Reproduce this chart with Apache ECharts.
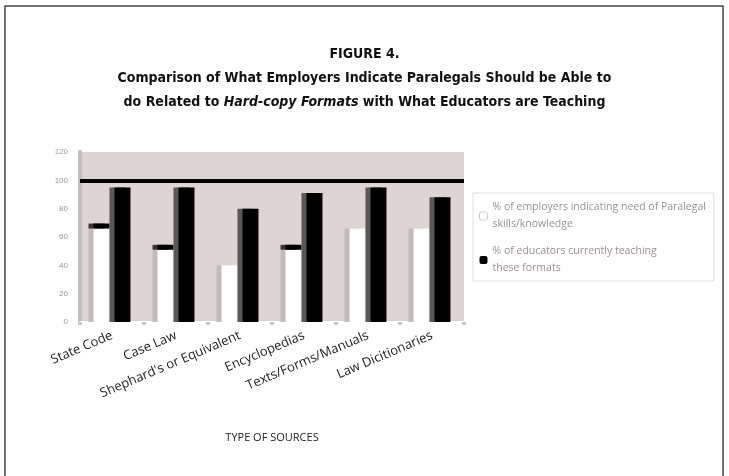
<!DOCTYPE html>
<html>
<head>
<meta charset="utf-8">
<script src="https://cdn.jsdelivr.net/npm/echarts@6/dist/echarts.min.js"></script>
<style>
  html, body { margin: 0; padding: 0; background: #fff; }
  #chart { width: 729px; height: 476px; }
</style>
</head>
<body>
<div id="chart"></div>
<script>
const categories = ['State Code', 'Case Law', "Shephard's or Equivalent", 'Encyclopedias', 'Texts/Forms/Manuals', 'Law Dicitionaries'];
const employersValues = [66, 51, 40, 51, 66, 66];
const employersCap = [3.5, 3.5, null, 3.5, null, null];
const educatorsValues = [95, 95, 80, 91, 95, 88];
const referenceLine = 100;
const yTicks = [0, 20, 40, 60, 80, 100, 120];
const legendNames = ['% of employers indicating need of Paralegal\nskills/knowledge', '% of educators currently teaching\nthese formats'];

const chart = echarts.init(document.getElementById('chart'));
const titleFont = '"DejaVu Sans Condensed", "Liberation Sans Narrow", sans-serif';
chart.setOption({
  backgroundColor: '#ffffff',
  animation: false,
  title: {
    text: '{b|FIGURE 4.}\n{b|Comparison of What Employers Indicate Paralegals Should be Able to}\n{b|do Related to }{i|Hard-copy Formats}{b| with What Educators are Teaching}',
    left: 'center',
    top: 37,
    textStyle: {
      align: 'center',
      rich: {
        b: { fontFamily: titleFont, fontWeight: 'bold', fontSize: 14, color: '#111', lineHeight: 24 },
        i: { fontFamily: titleFont, fontWeight: 'bold', fontStyle: 'italic', fontSize: 14, color: '#111', lineHeight: 24 }
      }
    }
  },
  graphic: [{
    type: 'rect',
    shape: { x: 5, y: 6, width: 718, height: 480 },
    style: { fill: 'none', stroke: '#444', lineWidth: 1.5 },
    silent: true, z: -1
  }],
  legend: {
    orient: 'vertical',
    left: 473,
    top: 193,
    itemWidth: 8,
    itemHeight: 8,
    itemGap: 10,
    padding: [6, 8, 4, 6],
    borderColor: '#e2dcdb',
    borderWidth: 1,
    data: [
      { name: legendNames[0], itemStyle: { color: '#ffffff', borderColor: '#d0c8c6', borderWidth: 1 } },
      { name: legendNames[1], itemStyle: { color: '#000000' } }
    ],
    textStyle: { color: '#9a9090', fontSize: 10.5, lineHeight: 17, fontFamily: '"Open Sans", sans-serif' }
  },
  grid: {
    left: 80, right: 265, top: 152, bottom: 154,
    show: true, backgroundColor: '#ddd5d3', borderWidth: 0
  },
  xAxis: {
    type: 'category',
    data: categories,
    axisLine: { show: true, lineStyle: { color: '#ffffff', width: 2 } },
    axisTick: { show: true, length: 3, lineStyle: { color: '#ccc4c2', width: 4 } },
    axisLabel: {
      rotate: 23, color: '#222', fontSize: 13, margin: 13,
      fontFamily: '"Open Sans", sans-serif', interval: 0
    },
    name: 'TYPE OF SOURCES',
    nameLocation: 'middle',
    nameGap: 110,
    nameTextStyle: { color: '#222', fontSize: 11, fontFamily: '"Open Sans", sans-serif' }
  },
  yAxis: {
    type: 'value',
    min: 0, max: 120, interval: 20,
    axisLine: { show: true, lineStyle: { color: '#c6bdbb', width: 4 } },
    axisTick: { show: false },
    splitLine: { show: false },
    axisLabel: {
      color: '#a09696', fontSize: 8, margin: 12,
      formatter: v => yTicks.includes(v) ? String(v) : ''
    }
  },
  series: [
    {
      name: legendNames[0],
      type: 'bar',
      stack: 'emp',
      data: employersValues,
      barWidth: 16,
      barGap: '31%',
      itemStyle: { color: '#ffffff', shadowColor: '#c4bab8', shadowOffsetX: -5, shadowBlur: 0.01 },
      z: 2
    },
    {
      name: 'cap',
      type: 'bar',
      stack: 'emp',
      data: employersCap,
      barWidth: 16,
      itemStyle: { color: '#000000', shadowColor: '#3a3332', shadowOffsetX: -5, shadowBlur: 0.01 },
      z: 2
    },
    {
      name: legendNames[1],
      type: 'bar',
      data: educatorsValues,
      barWidth: 16,
      barGap: '31%',
      itemStyle: { color: '#000000', shadowColor: '#5e5654', shadowOffsetX: -5, shadowBlur: 0.01 },
      z: 3,
      markLine: {
        symbol: 'none',
        silent: true,
        label: { show: false },
        lineStyle: { color: '#000', width: 4, type: 'solid' },
        data: [{ yAxis: referenceLine }]
      }
    }
  ]
});
</script>
</body>
</html>
